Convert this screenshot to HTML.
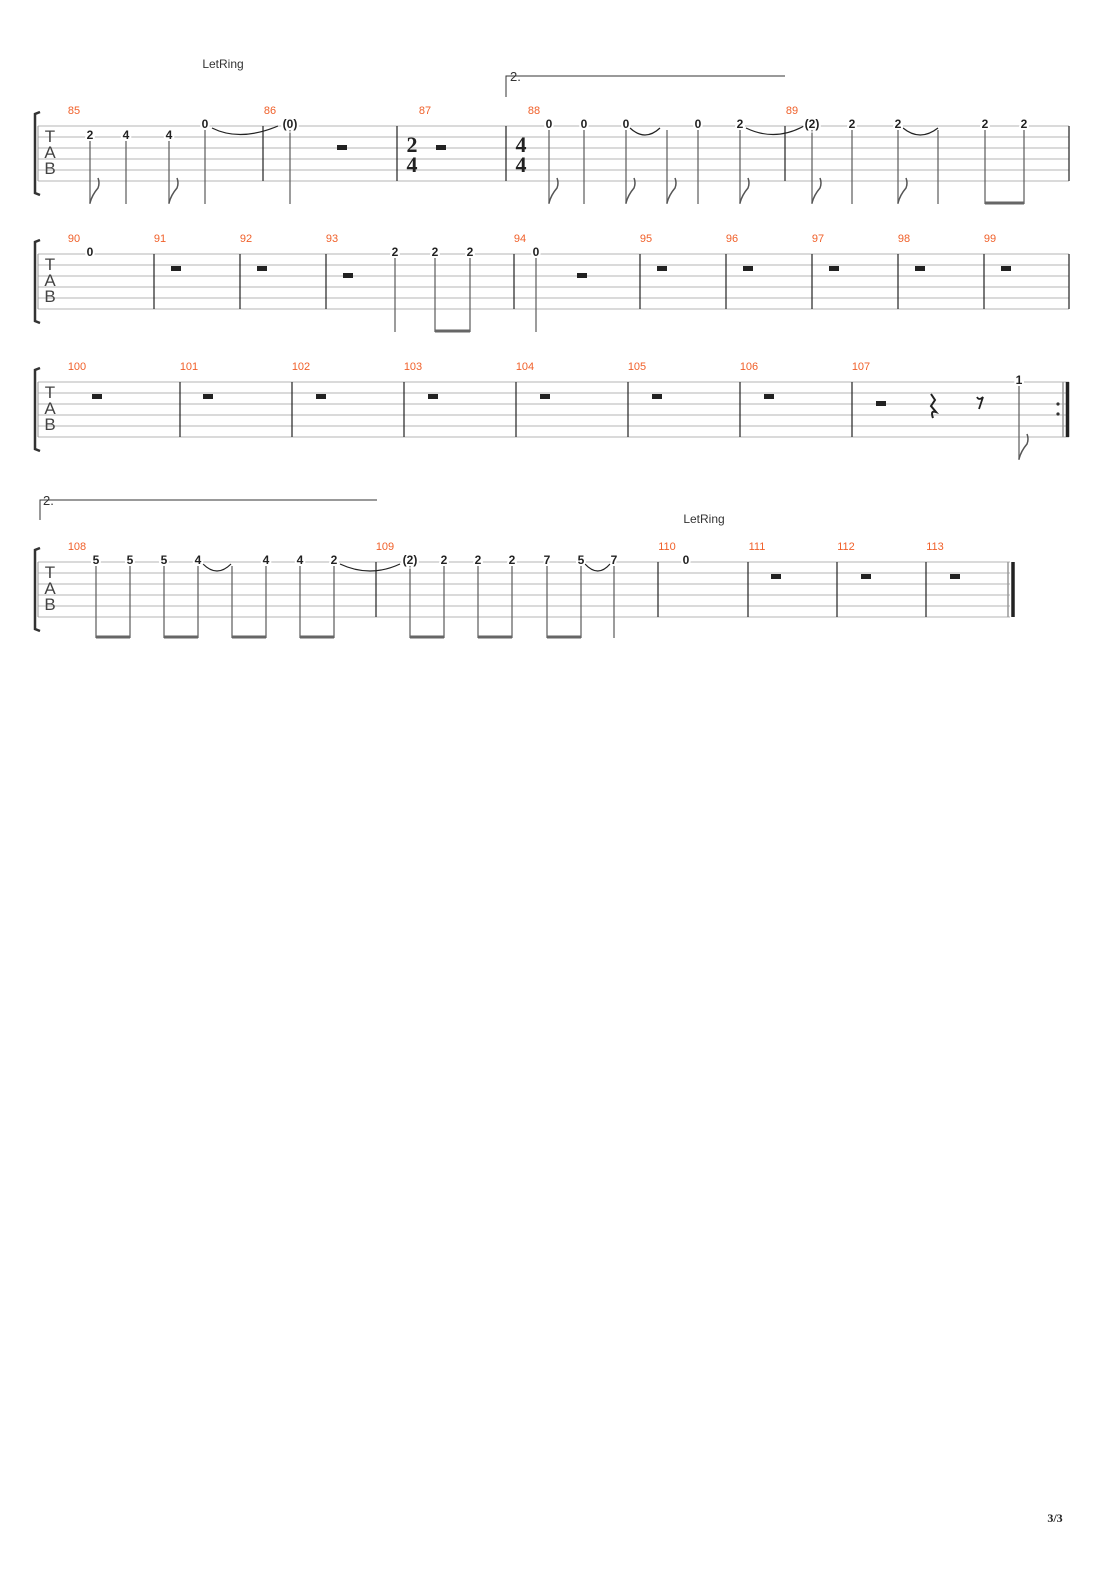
<!DOCTYPE html>
<html><head><meta charset="utf-8"><style>
body{margin:0;background:#fff}
svg{display:block}
.n{font:bold 12px "Liberation Sans",sans-serif;fill:#222;stroke:#fff;stroke-width:4px;paint-order:stroke;text-anchor:middle}
.b{font:11px "Liberation Sans",sans-serif;fill:#f0602a;text-anchor:middle}
.t{font:12px "Liberation Sans",sans-serif;fill:#333;text-anchor:middle}
.tab{font:17px "Liberation Sans",sans-serif;fill:#444;text-anchor:middle}
.ts{font:bold 22px "Liberation Serif",serif;fill:#222;text-anchor:middle}
.sl{stroke:#b5b5b5;stroke-width:1}
.bl{stroke:#222;stroke-width:1.2}
.st{stroke:#666;stroke-width:1.3}
.bm{stroke:#666;stroke-width:3}
.tie{fill:none;stroke:#222;stroke-width:1.2}
.fl{fill:none;stroke:#555;stroke-width:1.5}
</style></head><body>
<svg width="1110" height="1570" viewBox="0 0 1110 1570" xmlns="http://www.w3.org/2000/svg">
<defs>
<g id="staff">
<line class="sl" x1="38" y1="0" x2="1069" y2="0"/><line class="sl" x1="38" y1="11" x2="1069" y2="11"/>
<line class="sl" x1="38" y1="22" x2="1069" y2="22"/><line class="sl" x1="38" y1="33" x2="1069" y2="33"/>
<line class="sl" x1="38" y1="44" x2="1069" y2="44"/><line class="sl" x1="38" y1="55" x2="1069" y2="55"/>
<line x1="38" y1="0" x2="38" y2="55" stroke="#999"/>
<path d="M40,-14 L35,-12 L35,67 L40,69" fill="none" stroke="#333" stroke-width="2.5"/>
<text class="tab" x="50" y="16">T</text><text class="tab" x="50" y="32">A</text><text class="tab" x="50" y="48">B</text>
</g>
<rect id="r" x="-5" y="-3" width="10" height="5" fill="#222"/>
</defs>

<!-- System 1 -->
<text class="t" x="223" y="68">LetRing</text>
<path d="M506,97 L506,76 L785,76" fill="none" stroke="#333"/>
<text x="510" y="81" font-family="Liberation Sans" font-size="13" fill="#333">2.</text>
<g transform="translate(0,126)"><use href="#staff"/></g>
<text class="b" x="74" y="114">85</text><text class="b" x="270" y="114">86</text><text class="b" x="425" y="114">87</text><text class="b" x="534" y="114">88</text><text class="b" x="792" y="114">89</text>
<g class="bl"><line x1="263" y1="126" x2="263" y2="181"/><line x1="397" y1="126" x2="397" y2="181"/><line x1="506" y1="126" x2="506" y2="181"/><line x1="785" y1="126" x2="785" y2="181"/><line x1="1069" y1="126" x2="1069" y2="181"/></g>
<g class="st">
<line x1="90" y1="140" x2="90" y2="204"/><line x1="126" y1="140" x2="126" y2="204"/><line x1="169" y1="140" x2="169" y2="204"/><line x1="205" y1="130" x2="205" y2="204"/><line x1="290" y1="130" x2="290" y2="204"/>
<line x1="549" y1="130" x2="549" y2="204"/><line x1="584" y1="130" x2="584" y2="204"/><line x1="626" y1="130" x2="626" y2="204"/><line x1="667" y1="130" x2="667" y2="204"/><line x1="698" y1="130" x2="698" y2="204"/><line x1="740" y1="130" x2="740" y2="204"/><line x1="812" y1="130" x2="812" y2="204"/><line x1="852" y1="130" x2="852" y2="204"/><line x1="898" y1="130" x2="898" y2="204"/><line x1="938" y1="130" x2="938" y2="204"/><line x1="985" y1="130" x2="985" y2="204"/><line x1="1024" y1="130" x2="1024" y2="204"/>
</g>
<line class="bm" x1="985" y1="203" x2="1024" y2="203"/>
<g class="fl">
<path d="M90,203 Q92,195 98,188 Q100,183 98,178"/><path d="M169,203 Q171,195 177,188 Q179,183 177,178"/><path d="M549,203 Q551,195 557,188 Q559,183 557,178"/><path d="M626,203 Q628,195 634,188 Q636,183 634,178"/><path d="M667,203 Q669,195 675,188 Q677,183 675,178"/><path d="M740,203 Q742,195 748,188 Q750,183 748,178"/><path d="M812,203 Q814,195 820,188 Q822,183 820,178"/><path d="M898,203 Q900,195 906,188 Q908,183 906,178"/>
</g>
<g class="tie"><path d="M212,128 Q240,142 278,126"/><path d="M630,128 Q645,142 660,128"/><path d="M746,128 Q775,142 804,126"/><path d="M903,128 Q920,142 938,128"/></g>
<text class="n" x="90" y="139">2</text><text class="n" x="126" y="139">4</text><text class="n" x="169" y="139">4</text><text class="n" x="205" y="128">0</text><text class="n" x="290" y="128">(0)</text>
<text class="n" x="549" y="128">0</text><text class="n" x="584" y="128">0</text><text class="n" x="626" y="128">0</text><text class="n" x="698" y="128">0</text><text class="n" x="740" y="128">2</text><text class="n" x="812" y="128">(2)</text><text class="n" x="852" y="128">2</text><text class="n" x="898" y="128">2</text><text class="n" x="985" y="128">2</text><text class="n" x="1024" y="128">2</text>
<use href="#r" x="342" y="148"/><use href="#r" x="441" y="148"/>
<text class="ts" x="412" y="152">2</text><text class="ts" x="412" y="172">4</text>
<text class="ts" x="521" y="152">4</text><text class="ts" x="521" y="172">4</text>

<!-- System 2 -->
<g transform="translate(0,254)"><use href="#staff"/></g>
<text class="b" x="74" y="242">90</text><text class="b" x="160" y="242">91</text><text class="b" x="246" y="242">92</text><text class="b" x="332" y="242">93</text><text class="b" x="520" y="242">94</text><text class="b" x="646" y="242">95</text><text class="b" x="732" y="242">96</text><text class="b" x="818" y="242">97</text><text class="b" x="904" y="242">98</text><text class="b" x="990" y="242">99</text>
<g class="bl"><line x1="154" y1="254" x2="154" y2="309"/><line x1="240" y1="254" x2="240" y2="309"/><line x1="326" y1="254" x2="326" y2="309"/><line x1="514" y1="254" x2="514" y2="309"/><line x1="640" y1="254" x2="640" y2="309"/><line x1="726" y1="254" x2="726" y2="309"/><line x1="812" y1="254" x2="812" y2="309"/><line x1="898" y1="254" x2="898" y2="309"/><line x1="984" y1="254" x2="984" y2="309"/><line x1="1069" y1="254" x2="1069" y2="309"/></g>
<g class="st"><line x1="395" y1="258" x2="395" y2="332"/><line x1="435" y1="258" x2="435" y2="332"/><line x1="470" y1="258" x2="470" y2="332"/><line x1="536" y1="258" x2="536" y2="332"/></g>
<line class="bm" x1="435" y1="331" x2="470" y2="331"/>
<text class="n" x="90" y="256">0</text><text class="n" x="395" y="256">2</text><text class="n" x="435" y="256">2</text><text class="n" x="470" y="256">2</text><text class="n" x="536" y="256">0</text>
<use href="#r" x="176" y="269"/><use href="#r" x="262" y="269"/><use href="#r" x="348" y="276"/><use href="#r" x="582" y="276"/><use href="#r" x="662" y="269"/><use href="#r" x="748" y="269"/><use href="#r" x="834" y="269"/><use href="#r" x="920" y="269"/><use href="#r" x="1006" y="269"/>

<!-- System 3 -->
<g transform="translate(0,382)"><use href="#staff"/></g>
<text class="b" x="77" y="370">100</text><text class="b" x="189" y="370">101</text><text class="b" x="301" y="370">102</text><text class="b" x="413" y="370">103</text><text class="b" x="525" y="370">104</text><text class="b" x="637" y="370">105</text><text class="b" x="749" y="370">106</text><text class="b" x="861" y="370">107</text>
<g class="bl"><line x1="180" y1="382" x2="180" y2="437"/><line x1="292" y1="382" x2="292" y2="437"/><line x1="404" y1="382" x2="404" y2="437"/><line x1="516" y1="382" x2="516" y2="437"/><line x1="628" y1="382" x2="628" y2="437"/><line x1="740" y1="382" x2="740" y2="437"/><line x1="852" y1="382" x2="852" y2="437"/></g>
<line x1="1063" y1="382" x2="1063" y2="437" stroke="#999" stroke-width="1.5"/><line x1="1067.5" y1="382" x2="1067.5" y2="437" stroke="#222" stroke-width="3.5"/>
<circle cx="1058" cy="404" r="1.6" fill="#333"/><circle cx="1058" cy="414" r="1.6" fill="#333"/>
<use href="#r" x="97" y="397"/><use href="#r" x="208" y="397"/><use href="#r" x="321" y="397"/><use href="#r" x="433" y="397"/><use href="#r" x="545" y="397"/><use href="#r" x="657" y="397"/><use href="#r" x="769" y="397"/><use href="#r" x="881" y="404"/>
<path d="M931,394 L935,400 L931,406 L936,412 Q930,410 933,418" fill="none" stroke="#222" stroke-width="2"/>
<path d="M977,397 Q979,401 983,397 L979,409" fill="none" stroke="#222" stroke-width="1.8"/>
<line class="st" x1="1019" y1="386" x2="1019" y2="460"/>
<path class="fl" d="M1019,459 Q1021,451 1027,444 Q1029,439 1027,434"/>
<text class="n" x="1019" y="384">1</text>

<!-- System 4 -->
<path d="M40,520 L40,500 L377,500" fill="none" stroke="#333"/>
<text x="43" y="505" font-family="Liberation Sans" font-size="13" fill="#333">2.</text>
<text class="t" x="704" y="523">LetRing</text>
<g transform="translate(0,562)"><use href="#staff"/></g>
<rect x="1010" y="555" width="70" height="70" fill="#fff"/>
<text class="b" x="77" y="550">108</text><text class="b" x="385" y="550">109</text><text class="b" x="667" y="550">110</text><text class="b" x="757" y="550">111</text><text class="b" x="846" y="550">112</text><text class="b" x="935" y="550">113</text>
<g class="bl"><line x1="376" y1="562" x2="376" y2="617"/><line x1="658" y1="562" x2="658" y2="617"/><line x1="748" y1="562" x2="748" y2="617"/><line x1="837" y1="562" x2="837" y2="617"/><line x1="926" y1="562" x2="926" y2="617"/></g>
<line x1="1008" y1="562" x2="1008" y2="617" stroke="#999" stroke-width="1.5"/><line x1="1013" y1="562" x2="1013" y2="617" stroke="#222" stroke-width="3.5"/>
<g class="st"><line x1="96" y1="566" x2="96" y2="638"/><line x1="130" y1="566" x2="130" y2="638"/><line x1="164" y1="566" x2="164" y2="638"/><line x1="198" y1="566" x2="198" y2="638"/><line x1="232" y1="566" x2="232" y2="638"/><line x1="266" y1="566" x2="266" y2="638"/><line x1="300" y1="566" x2="300" y2="638"/><line x1="334" y1="566" x2="334" y2="638"/><line x1="410" y1="566" x2="410" y2="638"/><line x1="444" y1="566" x2="444" y2="638"/><line x1="478" y1="566" x2="478" y2="638"/><line x1="512" y1="566" x2="512" y2="638"/><line x1="547" y1="566" x2="547" y2="638"/><line x1="581" y1="566" x2="581" y2="638"/><line x1="614" y1="566" x2="614" y2="638"/></g>
<g class="bm"><line x1="96" y1="637" x2="130" y2="637"/><line x1="164" y1="637" x2="198" y2="637"/><line x1="232" y1="637" x2="266" y2="637"/><line x1="300" y1="637" x2="334" y2="637"/><line x1="410" y1="637" x2="444" y2="637"/><line x1="478" y1="637" x2="512" y2="637"/><line x1="547" y1="637" x2="581" y2="637"/></g>
<g class="tie"><path d="M203,564 Q217,578 231,564"/><path d="M340,564 Q370,578 400,564"/><path d="M585,564 Q598,578 610,564"/></g>
<text class="n" x="96" y="564">5</text><text class="n" x="130" y="564">5</text><text class="n" x="164" y="564">5</text><text class="n" x="198" y="564">4</text><text class="n" x="266" y="564">4</text><text class="n" x="300" y="564">4</text><text class="n" x="334" y="564">2</text><text class="n" x="410" y="564">(2)</text><text class="n" x="444" y="564">2</text><text class="n" x="478" y="564">2</text><text class="n" x="512" y="564">2</text><text class="n" x="547" y="564">7</text><text class="n" x="581" y="564">5</text><text class="n" x="614" y="564">7</text><text class="n" x="686" y="564">0</text>
<use href="#r" x="776" y="577"/><use href="#r" x="866" y="577"/><use href="#r" x="955" y="577"/>

<text x="1055" y="1522" font-family="Liberation Serif" font-weight="bold" font-size="12" fill="#222" text-anchor="middle">3/3</text>
</svg>
</body></html>
